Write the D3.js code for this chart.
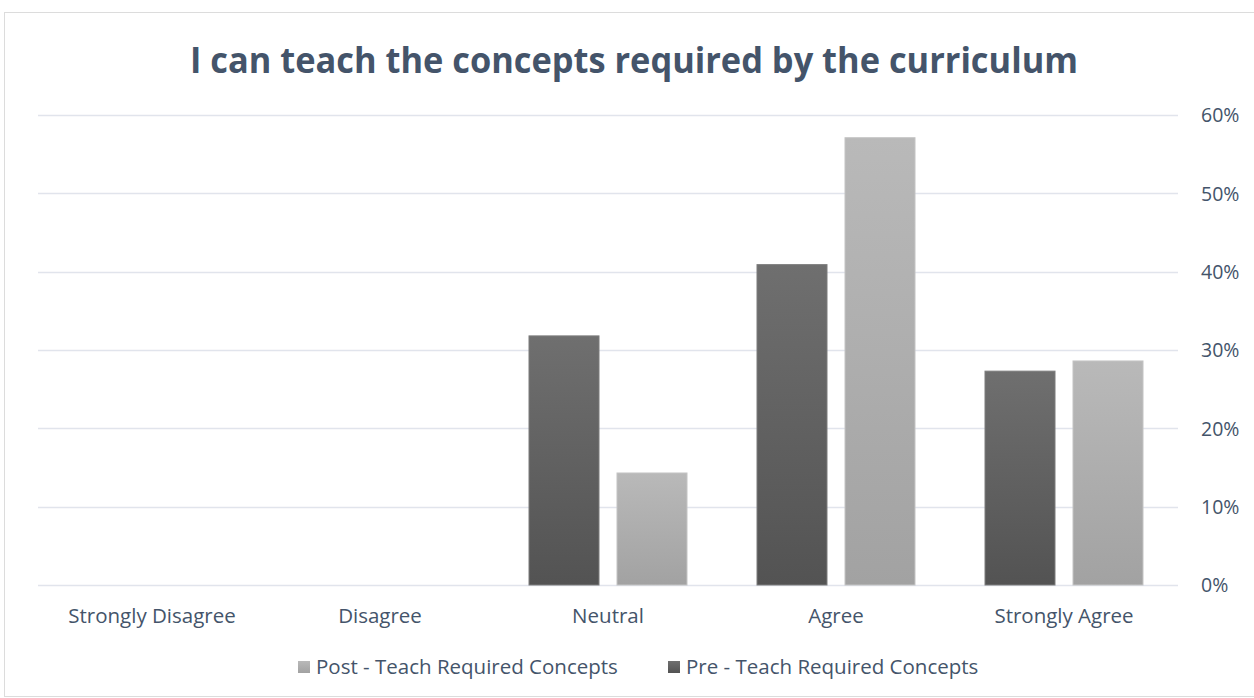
<!DOCTYPE html>
<html><head><meta charset="utf-8">
<script src="https://cdn.jsdelivr.net/npm/d3@7"></script>
<style>body{margin:0;background:#fff}svg{display:block}</style>
</head><body>
<script>
const categories = ["Strongly Disagree","Disagree","Neutral","Agree","Strongly Agree"];
const preValues = [null, null, 31.8, 40.9, 27.3];
const postValues = [null, null, 14.3, 57.1, 28.6];
const seriesNames = ["Pre - Teach Required Concepts","Post - Teach Required Concepts"];
const yTicks = [0,10,20,30,40,50,60];
const title = "I can teach the concepts required by the curriculum";

const W=1254,H=698;
const svg=d3.select("body").append("svg").attr("width",W).attr("height",H);
const defs=svg.append("defs");
function grad(id,top,bot){
  const g=defs.append("linearGradient").attr("id",id).attr("x1",0).attr("y1",0).attr("x2",0).attr("y2",1);
  g.append("stop").attr("offset","0%").attr("stop-color",top);
  g.append("stop").attr("offset","100%").attr("stop-color",bot);
}
grad("gDark","#6f6f6f","#535353");
grad("gLight","#b9b9b9","#a2a2a2");

svg.append("rect").attr("x",4.5).attr("y",12.5).attr("width",1260).attr("height",684).attr("fill","#fff").attr("stroke","#dcdcdc");

const font="'Open Sans', 'Noto Sans', sans-serif";
svg.append("text").attr("x",634).attr("y",73).attr("text-anchor","middle")
 .attr("font-family",font).attr("font-weight","bold").attr("font-size",35)
 .attr("fill","#44546a").attr("textLength",888).attr("lengthAdjust","spacingAndGlyphs").text(title);

const x=d3.scaleBand().domain(categories).range([38,1178]);
const y=d3.scaleLinear().domain([0,60]).range([585,115]);

const yAxis=d3.axisRight(y).tickValues(yTicks).tickSize(0).tickPadding(0).tickFormat(d=>d+"%");
const ga=svg.append("g").attr("transform","translate(1201,0)").call(yAxis);
ga.select(".domain").remove();
ga.selectAll("text").attr("font-family",font).attr("font-size",19.5).attr("fill","#44546a").attr("dy","0.35em");

svg.append("g").selectAll("line").data(yTicks).join("line")
 .attr("x1",38).attr("x2",1178).attr("y1",d=>Math.round(y(d))+0.5).attr("y2",d=>Math.round(y(d))+0.5)
 .attr("stroke","#e1e4ec").attr("stroke-width",1.5);

const bw=70,gap=18;
const series=[{vals:preValues,fill:"url(#gDark)",stroke:"#7d7d7d",off:-(gap/2+bw)},{vals:postValues,fill:"url(#gLight)",stroke:"#c4c4c4",off:gap/2}];
series.forEach(s=>{
  svg.append("g").selectAll("rect").data(categories.map((c,i)=>({c,v:s.vals[i]})).filter(d=>d.v!=null)).join("rect")
   .attr("x",d=>x(d.c)+x.bandwidth()/2+s.off).attr("width",bw)
   .attr("y",d=>y(d.v)).attr("height",d=>y(0)-y(d.v))
   .attr("fill",s.fill).attr("stroke",s.stroke).attr("stroke-width",1);
});

const xAxis=d3.axisBottom(x).tickSize(0).tickPadding(0);
const gx=svg.append("g").attr("transform","translate(0,616)").call(xAxis);
gx.select(".domain").remove();
gx.selectAll("text").attr("font-family",font).attr("font-size",20.5).attr("fill","#44546a").attr("dy","0.35em");

const leg=[{name:seriesNames[1],fill:"url(#gLight)",x:298},{name:seriesNames[0],fill:"url(#gDark)",x:668}];
const lg=svg.append("g");
leg.forEach(l=>{
  lg.append("rect").attr("x",l.x).attr("y",661).attr("width",12).attr("height",12).attr("fill",l.fill);
  lg.append("text").attr("x",l.x+18).attr("y",667).attr("dy","0.35em").attr("font-family",font).attr("font-size",20.5).attr("fill","#44546a").text(l.name);
});
</script>
</body></html>
